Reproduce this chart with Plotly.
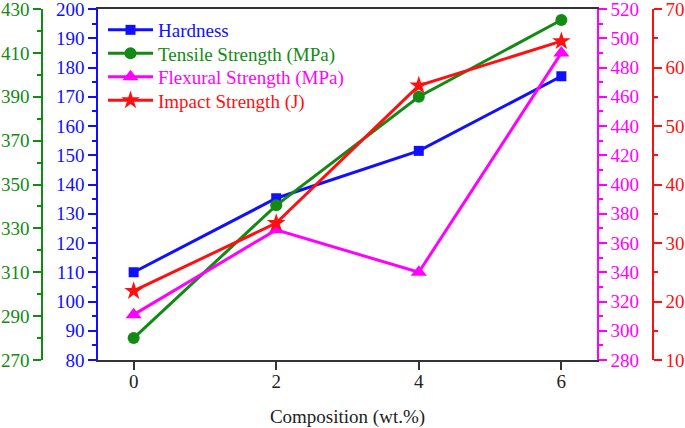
import plotly.graph_objects as go

composition = [0, 2, 4, 6]
hardness = [110, 135.3, 151.5, 177]
tensile = [280, 340.5, 390, 425]
flexural = [311, 369, 340, 490]
impact = [21.8, 33.4, 56.9, 64.5]

BLUE = "#1010FF"
GREEN = "#138A13"
MAGENTA = "#FF00FF"
RED = "#FF1010"
FONT = "Liberation Serif"

W, H = 685, 428
x0, x1 = 98 / W, 597 / W
y0, y1 = 1 - 360 / H, 1 - 9 / H

fig = go.Figure()
fig.add_trace(go.Scatter(x=composition, y=hardness, name="Hardness", yaxis="y", legend="legend",
                         mode="lines+markers", line=dict(color=BLUE, width=3),
                         marker=dict(symbol="square", size=10, color=BLUE)))
fig.add_trace(go.Scatter(x=composition, y=tensile, name="Tensile Strength (MPa)", yaxis="y2", legend="legend2",
                         mode="lines+markers", line=dict(color=GREEN, width=3),
                         marker=dict(symbol="circle", size=12, color=GREEN)))
fig.add_trace(go.Scatter(x=composition, y=flexural, name="Flexural Strength (MPa)", yaxis="y3", legend="legend3",
                         mode="lines+markers", line=dict(color=MAGENTA, width=3),
                         marker=dict(symbol="triangle-up", size=14, color=MAGENTA)))
fig.add_trace(go.Scatter(x=composition, y=impact, name="Impact Strength (J)", yaxis="y4", legend="legend4",
                         mode="lines+markers", line=dict(color=RED, width=3),
                         marker=dict(symbol="star", size=14, color=RED)))

def yax(color, rng, dtick, mdtick, side, **kw):
    return dict(range=rng, dtick=dtick, tick0=rng[0], side=side, color=color,
                showline=True, linecolor=color, linewidth=1.5,
                ticks="outside", ticklen=8, tickwidth=1.5, tickcolor=color,
                minor=dict(dtick=mdtick, ticks="outside", ticklen=4, tickwidth=1.5, tickcolor=color),
                showgrid=False, zeroline=False, automargin=False, ticklabeloverflow="allow",
                tickfont=dict(family=FONT, size=19, color=color), **kw)

def leg(yc, color):
    return dict(x=103 / W, y=1 - yc / H, xanchor="left", yanchor="middle",
                bgcolor="rgba(0,0,0,0)", borderwidth=0, itemwidth=45,
                font=dict(family=FONT, size=19, color=color))

fig.update_layout(
    width=W, height=H,
    margin=dict(l=0, r=0, t=0, b=0),
    paper_bgcolor="white", plot_bgcolor="white",
    font=dict(family=FONT, size=19),
    showlegend=True,
    legend=leg(30, BLUE),
    legend2=leg(53.5, GREEN),
    legend3=leg(77, MAGENTA),
    legend4=leg(100.5, RED),
    xaxis=dict(domain=[x0, x1], range=[-0.5, 6.5], tickvals=composition,
               showline=True, linecolor="#333", linewidth=1.5, mirror=True,
               ticks="outside", ticklen=8, tickwidth=1.5, tickcolor="#333",
               showgrid=False, zeroline=False, automargin=False, ticklabelstandoff=-5,
               tickfont=dict(family=FONT, size=19, color="#222"),
               title=dict(text="Composition (wt.%)", font=dict(family=FONT, size=19, color="#222"), standoff=21)),
    yaxis=yax(BLUE, [80, 200], 10, 5, "left", domain=[y0, y1], anchor="x"),
    yaxis2=yax(GREEN, [270, 430], 20, 10, "left", overlaying="y", anchor="free", position=42 / W),
    yaxis3=yax(MAGENTA, [280, 520], 20, 10, "right", overlaying="y", anchor="x"),
    yaxis4=yax(RED, [10, 70], 10, 5, "right", overlaying="y", anchor="free", position=653 / W),
)

fig.write_html("out.html", config={"displayModeBar": False},
               post_script="document.body.style.margin='0';document.body.style.overflow='hidden';")
